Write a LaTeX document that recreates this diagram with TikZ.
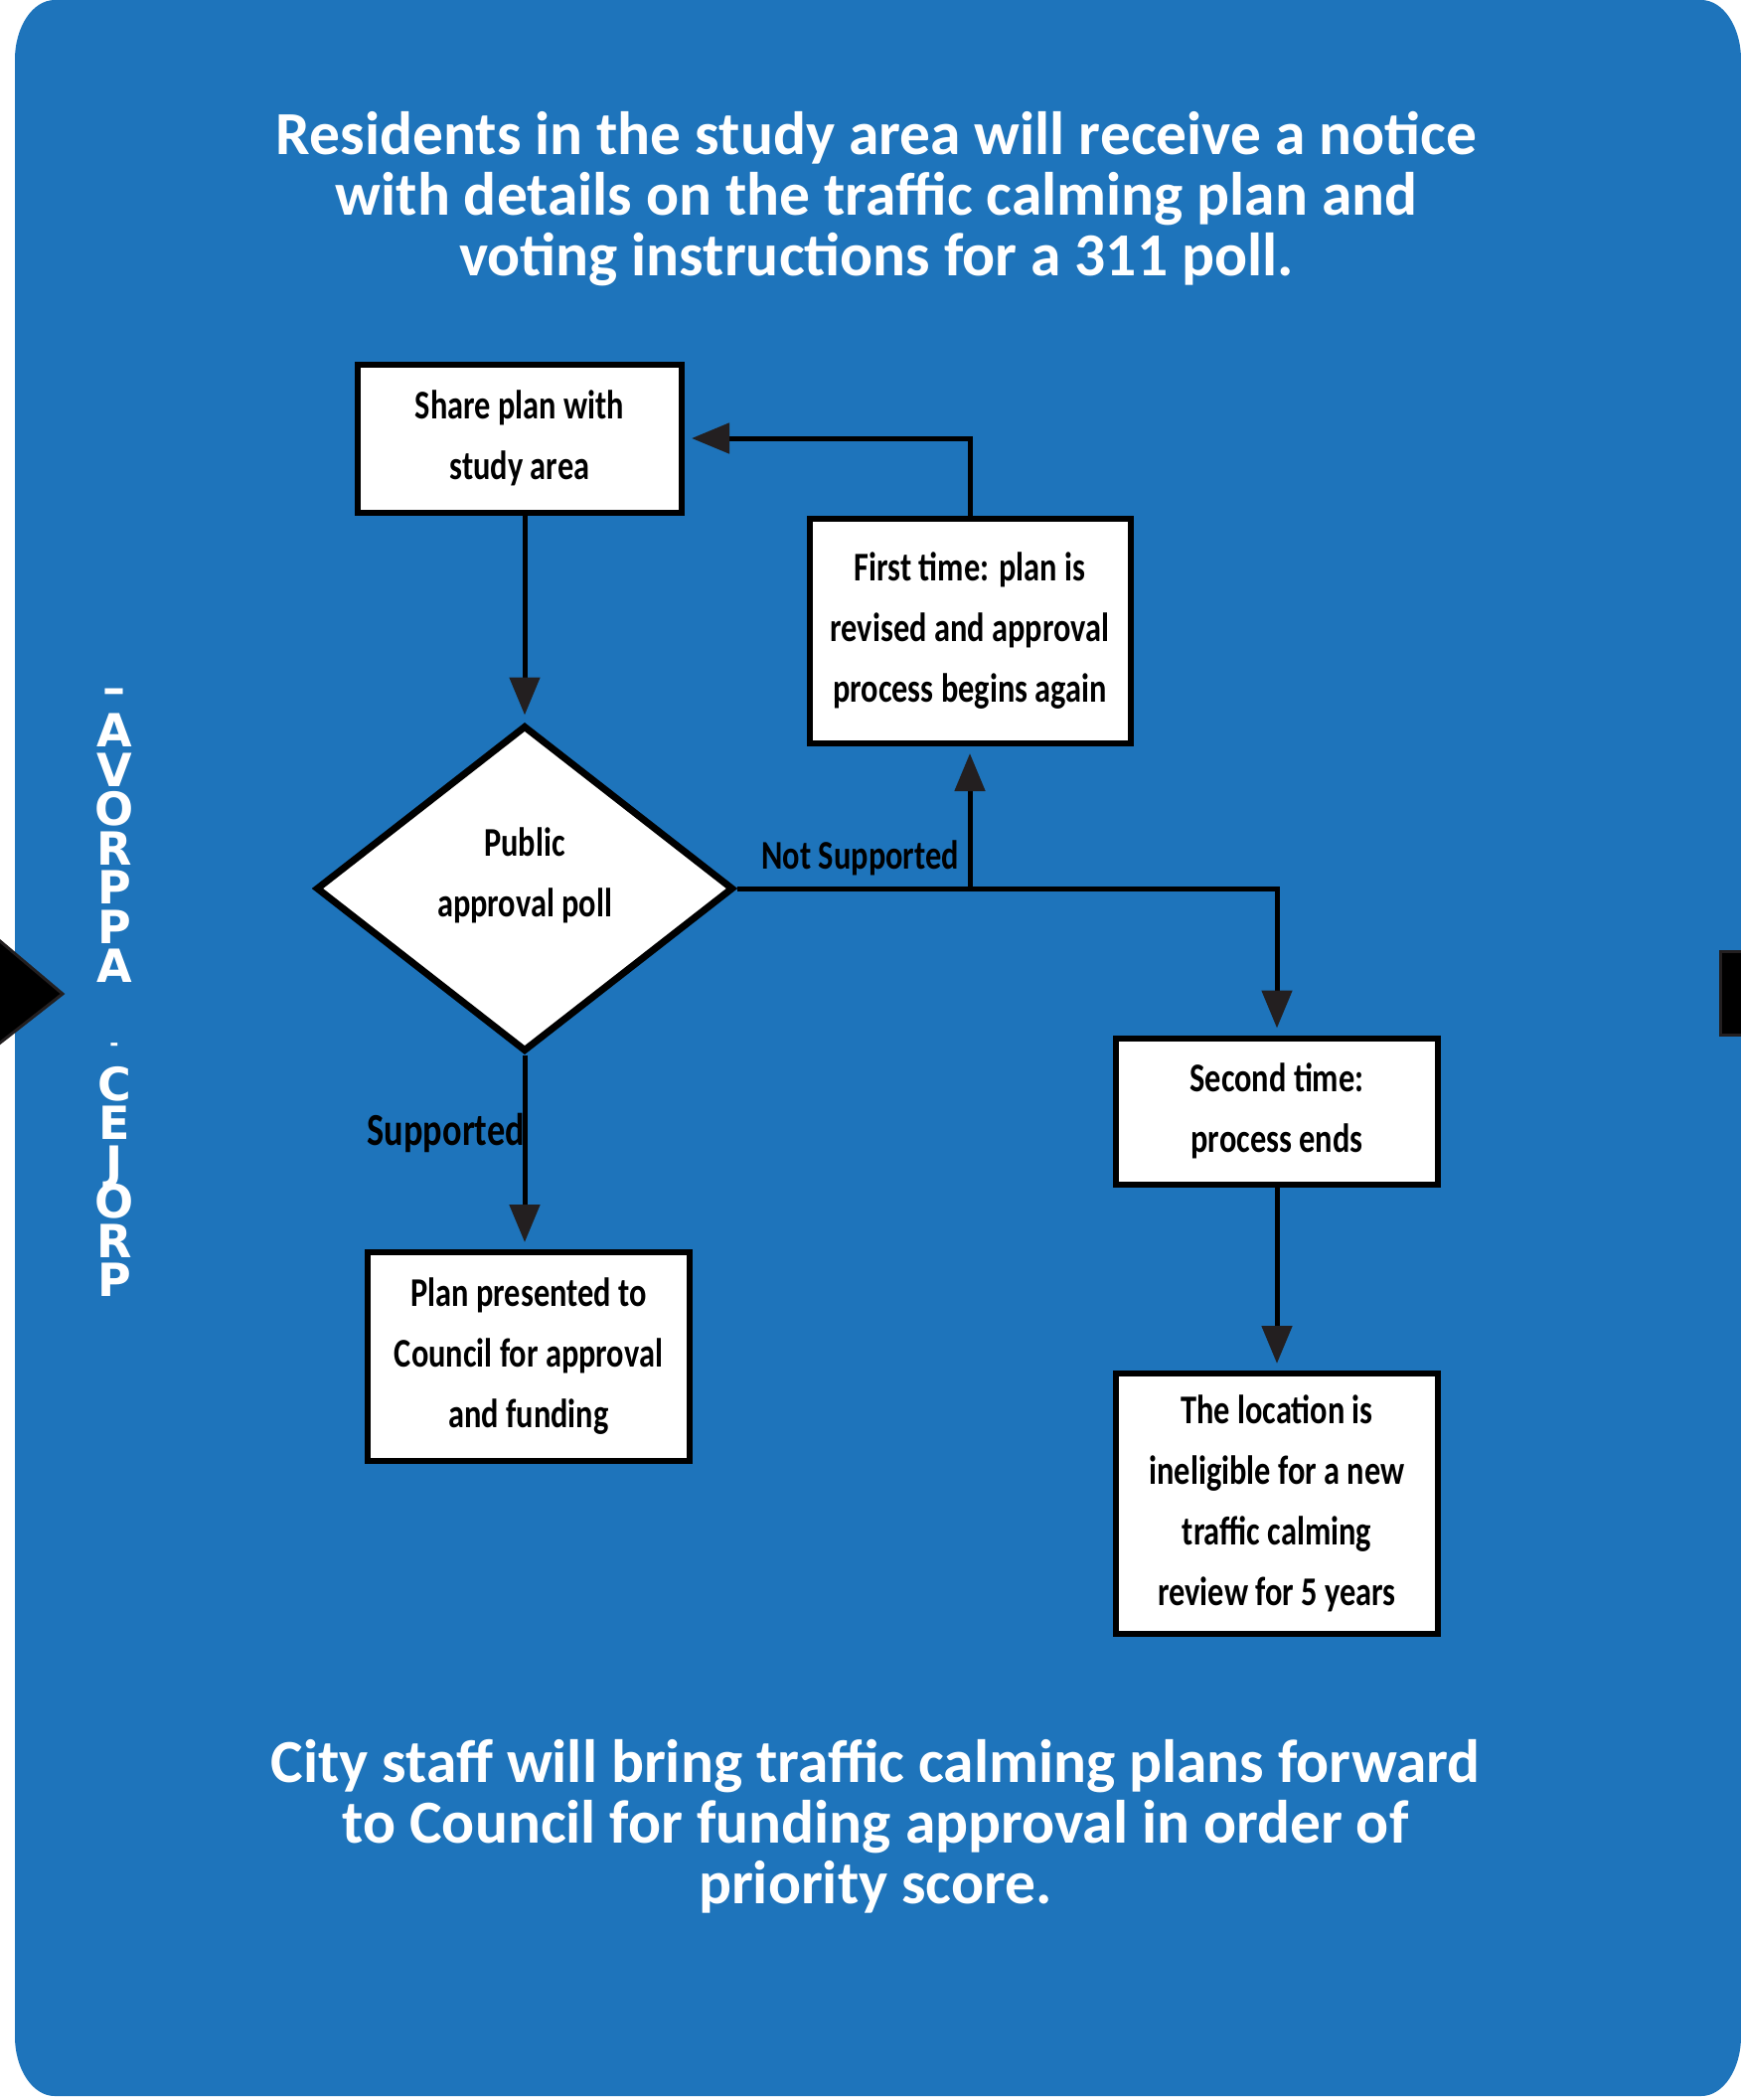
\documentclass[tikz,border=0pt]{standalone}
\usepackage{fontspec}
\setmainfont{Carlito}
\newfontfamily\boxfont[FakeStretch=0.79]{Carlito}
\newfontfamily\sidefont{DejaVu Sans}
\usetikzlibrary{arrows.meta,shapes.geometric}
\definecolor{bgblue}{RGB}{30,116,187}
\definecolor{tipgray}{RGB}{35,31,32}
\tikzset{
  flowbox/.style={draw=black, line width=6pt, fill=white, inner sep=0pt, align=center,
    font=\boxfont\bfseries\fontsize{41}{61}\selectfont},
  conn/.style={draw=black, line width=5pt, -{Triangle[width=30pt,length=38pt,color=tipgray]}, shorten >=7pt},
  lbl/.style={inner sep=0pt, font=\boxfont\bfseries\fontsize{41}{46}\selectfont},
  bigtext/.style={inner sep=0pt, text=white, font=\bfseries\fontsize{61.5}{61}\selectfont},
  sidetextstyle/.style={inner sep=0pt, text=white, font=\sidefont\bfseries\fontsize{46}{46}\selectfont}
}
\begin{document}
\begin{tikzpicture}[x=1pt,y=-1pt]
\useasboundingbox (0,0) rectangle (1752,2113);
% background panel
\fill[bgblue] (55,0) -- (1712,0)
  arc[start angle=-90,end angle=0,x radius=40,y radius=60] -- (1752,2049)
  arc[start angle=0,end angle=90,x radius=40,y radius=60] -- (55,2109)
  arc[start angle=90,end angle=180,x radius=40,y radius=60] -- (15,60)
  arc[start angle=180,end angle=270,x radius=40,y radius=60] -- cycle;
% side markers
\filldraw[fill=black, draw=tipgray, line width=3pt] (-20,930) -- (63,1000) -- (-20,1065) -- cycle;
\filldraw[fill=black, draw=tipgray, line width=3pt] (1731,957) rectangle (1770,1041);
% vertical side text (stacked letters)
\node[sidetextstyle, anchor=base] (sidetext) at (115,712) {\parbox[t]{70pt}{\centering
  \lineskiplimit=-100pt \baselineskip=39.5pt
  \raisebox{4pt}{–}\\A\\V\\O\\R\\P\\P\\A\\\mbox{}\\\raisebox{10pt}{\fontsize{22}{22}\selectfont -}\\C\\E\\J\\O\\R\\P}};
% titles
\node[bigtext, anchor=base] (toptext) at (882,155) {\parbox[t]{1500pt}{\centering
  Residents in the study area will receive a notice\\
  with details on the traffic calming plan and\\
  voting instructions for a 311 poll.}};
\node[bigtext, anchor=base] (bottomtext) at (881,1793) {\parbox[t]{1500pt}{\centering
  City staff will bring traffic calming plans forward\\
  to Council for funding approval in order of\\
  priority score.}};
% flow nodes
\node[flowbox, minimum width=326pt, minimum height=149pt] (share) at (523,441) {Share plan with\\study area};
\node[flowbox, minimum width=323pt, minimum height=226pt] (first) at (976,635) {First time: plan is\\revised and approval\\process begins again};
\node[flowbox, diamond, aspect=1.3, line width=7pt, minimum width=420pt, minimum height=328pt] (poll) at (528,894)
  {\raisebox{8pt}[0pt][0pt]{\begin{tabular}{@{}c@{}}Public\\approval poll\end{tabular}}};
\node[flowbox, minimum width=324pt, minimum height=210pt] (plan) at (532,1365) {Plan presented to\\Council for approval\\and funding};
\node[flowbox, minimum width=324pt, minimum height=147pt] (second) at (1285,1118) {Second time:\\process ends};
\node[flowbox, minimum width=324pt, minimum height=262pt] (loc) at (1285,1513) {The location is\\ineligible for a new\\traffic calming\\review for 5 years};
% connectors
\coordinate (j) at (first.south |- poll.east);
\draw[conn] (poll.north |- share.south) -- (poll.north);
\draw[conn] (poll.east) -| (second.north);
\draw[conn] (j) -- (first.south);
\draw[conn] (first.north) |- (share.east);
\draw[conn] (poll.south) -- (poll.south |- plan.north);
\draw[conn] (second.south) -- (loc.north);
% labels
\node[lbl, anchor=base east] (notsup) at (965,874) {Not Supported};
\node[lbl, anchor=base east, font=\boxfont\bfseries\fontsize{46}{46}\selectfont] (sup) at (528,1152) {Supported};
\end{tikzpicture}
\end{document}
